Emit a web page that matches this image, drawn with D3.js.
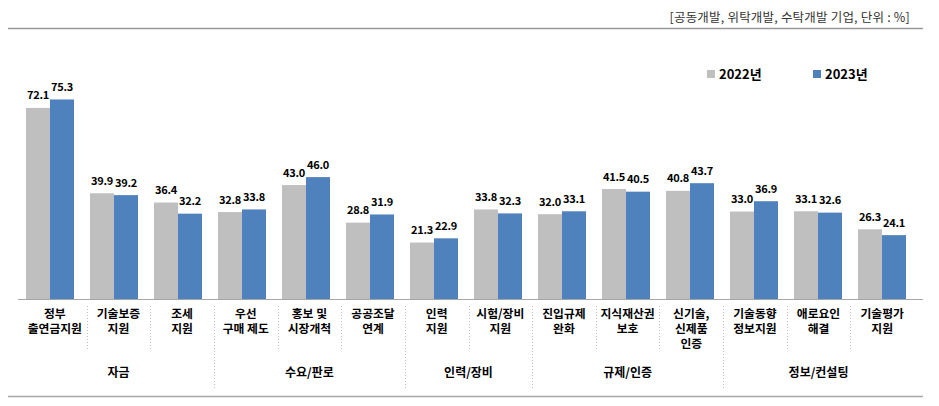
<!DOCTYPE html>
<html><head><meta charset="utf-8">
<script src="https://cdn.jsdelivr.net/npm/d3@7"></script>
<style>
html,body{margin:0;padding:0;background:#fff;}
svg{display:block;font-family:"Noto Sans CJK KR","Noto Sans",sans-serif;}
</style></head>
<body><svg id="c" width="939" height="406"></svg>
<script>
const categories = [
  ["정부","출연금지원"],["기술보증","지원"],["조세","지원"],
  ["우선","구매 제도"],["홍보 및","시장개척"],["공공조달","연계"],
  ["인력","지원"],["시험/장비","지원"],
  ["진입규제","완화"],["지식재산권","보호"],["신기술,","신제품","인증"],
  ["기술동향","정보지원"],["애로요인","해결"],["기술평가","지원"]
];
const groups = ["자금","수요/판로","인력/장비","규제/인증","정보/컨설팅"];
const groupSizes = [3,3,2,3,3];
const seriesNames = ["2022년","2023년"];
const values2022 = [72.1,39.9,36.4,32.8,43.0,28.8,21.3,33.8,32.0,41.5,40.8,33.0,33.1,26.3];
const values2023 = [75.3,39.2,32.2,33.8,46.0,31.9,22.9,32.3,33.1,40.5,43.7,36.9,32.6,24.1];
const subtitle = "[공동개발, 위탁개발, 수탁개발 기업, 단위 : %]";
const colors = ["#BFBFBF","#4F81BD"];

const svg = d3.select("#c");
const ids = categories.map((d,i)=>i);
const x = d3.scaleBand().domain(ids).range([18,914]).paddingInner(0.25).paddingOuter(0.125);
const xs = d3.scaleBand().domain([0,1]).range([0,x.bandwidth()]);
const xl = d3.scaleBand().domain(ids).range([23,914]);
const y = d3.scaleLinear().domain([0,80]).range([299,87]);
const series = [values2022, values2023];

// top and bottom rules
svg.append("line").attr("x1",8).attr("x2",923).attr("y1",28.5).attr("y2",28.5).attr("stroke","#999").attr("stroke-width",1.5);
svg.append("line").attr("x1",8).attr("x2",923).attr("y1",396.5).attr("y2",396.5).attr("stroke","#A6A6A6").attr("stroke-width",1.5);

// subtitle
svg.append("text").attr("x",910).attr("y",22).attr("text-anchor","end")
  .attr("font-size",12.5).attr("fill","#333").attr("letter-spacing",0.2)
  .text(subtitle);

// bars
series.forEach((vals,s)=>{
  const g = svg.append("g");
  g.selectAll("rect").data(vals).join("rect")
    .attr("x",(d,i)=>x(i)+xs(s)).attr("width",xs.bandwidth())
    .attr("y",d=>y(d)).attr("height",d=>y(0)-y(d)).attr("fill",colors[s]);
  g.selectAll("text").data(vals).join("text")
    .attr("x",(d,i)=>x(i)+xs(s)+xs.bandwidth()/2).attr("y",d=>y(d)-8.5)
    .attr("text-anchor","middle").attr("font-size",11).attr("font-weight","bold").attr("fill","#000")
    .attr("letter-spacing",-0.3)
    .text(d=>d.toFixed(1));
});

// axis baseline
svg.append("line").attr("x1",18).attr("x2",923).attr("y1",299.5).attr("y2",299.5).attr("stroke","#A6A6A6").attr("stroke-width",1);

// separators
const groupBounds = [];
let acc=0; groupSizes.forEach(n=>{acc+=n; groupBounds.push(acc);});
for(let i=1;i<categories.length;i++){
  const isGroup = groupBounds.includes(i);
  const xx = Math.round(xl(i))+0.5;
  svg.append("line").attr("x1",xx).attr("x2",xx).attr("y1",306).attr("y2",isGroup?390:351)
    .attr("stroke","#BFBFBF").attr("stroke-width",1).attr("stroke-dasharray","1,2");
}

// category labels (one text per line)
categories.forEach((lines,i)=>{
  lines.forEach((ln,k)=>{
    svg.append("text").attr("x",xl(i)+xl.bandwidth()/2).attr("y",318+k*15)
      .attr("text-anchor","middle").attr("font-size",11.8).attr("font-weight","bold").attr("fill","#000")
      .text(ln);
  });
});

// group labels
let start=0;
groups.forEach((g,gi)=>{
  const n=groupSizes[gi];
  const cx = (xl(start)+xl(start+n-1)+xl.bandwidth())/2;
  svg.append("text").attr("x",cx).attr("y",377).attr("text-anchor","middle")
    .attr("font-size",12).attr("font-weight","bold").attr("fill","#000").text(g);
  start+=n;
});

// legend
const legX = [707,813];
seriesNames.forEach((nm,s)=>{
  svg.append("rect").attr("x",legX[s]).attr("y",70).attr("width",8).attr("height",8).attr("fill",colors[s]);
  svg.append("text").attr("x",legX[s]+12).attr("y",79).attr("font-size",13).attr("font-weight","bold").attr("fill","#000").text(nm);
});
</script></body></html>
